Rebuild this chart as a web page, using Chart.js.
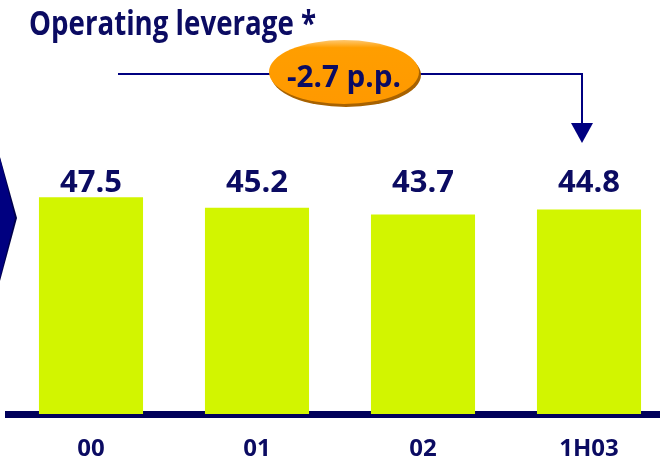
<!DOCTYPE html>
<html>
<head>
<meta charset="utf-8">
<script src="https://cdn.jsdelivr.net/npm/chart.js@4/dist/chart.umd.min.js"></script>
<style>
  html, body { margin: 0; padding: 0; background: #fff; overflow: hidden; }
  #wrap { width: 672px; height: 461px; }
</style>
</head>
<body>
<div id="wrap"><canvas id="myChart" width="672" height="461"></canvas></div>
<script>
const categories = ['00', '01', '02', '1H03'];
const leverage = [47.5, 45.2, 43.7, 44.8];
const chartTitle = 'Operating leverage *';
// change between first and last period, in percentage points
const delta = (leverage[leverage.length - 1] - leverage[0]).toFixed(1) + ' p.p.';

const NAVY = '#000080';
const INK = '#0b0b62';
const FONT = '"Open Sans", sans-serif';

// draw text squeezed horizontally into a given width
function fitText(ctx, text, x, y, width) {
    const w = ctx.measureText(text).width;
    const k = Math.min(1, width / w);
    ctx.save();
    ctx.translate(x, y);
    ctx.scale(k, 1);
    ctx.fillText(text, 0, 0);
    ctx.restore();
}

const decorations = {
    id: 'decorations',
    afterDatasetsDraw(chart) {
        const ctx = chart.ctx;
        const bars = chart.getDatasetMeta(0).data;
        ctx.save();

        // title
        ctx.fillStyle = INK;
        ctx.font = 'bold 34px ' + FONT;
        ctx.textAlign = 'left';
        ctx.textBaseline = 'alphabetic';
        fitText(ctx, chartTitle, 29, 35, 287);

        // left chevron
        ctx.fillStyle = '#00004a';
        ctx.beginPath();
        ctx.moveTo(0, 157); ctx.lineTo(17, 218); ctx.lineTo(0, 281); ctx.closePath();
        ctx.fill();
        ctx.fillStyle = NAVY;
        ctx.beginPath();
        ctx.moveTo(0, 158); ctx.lineTo(15, 218); ctx.lineTo(0, 278); ctx.closePath();
        ctx.fill();

        // connector from first to last bar
        const xEnd = Math.round(bars[bars.length - 1].x) - 7;
        ctx.strokeStyle = NAVY;
        ctx.lineWidth = 2;
        ctx.beginPath();
        ctx.moveTo(118, 74); ctx.lineTo(xEnd, 74); ctx.lineTo(xEnd, 124);
        ctx.stroke();
        ctx.fillStyle = NAVY;
        ctx.beginPath();
        ctx.moveTo(xEnd - 11, 123); ctx.lineTo(xEnd + 11, 123); ctx.lineTo(xEnd, 143);
        ctx.closePath();
        ctx.fill();

        // orange bubble
        const cx = 344, cy = 72;
        ctx.fillStyle = '#a86200';
        ctx.beginPath();
        ctx.ellipse(cx + 2, cy + 3, 75, 32, 0, 0, Math.PI * 2);
        ctx.fill();
        const g = ctx.createLinearGradient(0, cy - 32, 0, cy + 32);
        g.addColorStop(0, '#ffc870');
        g.addColorStop(0.12, '#ff9e00');
        g.addColorStop(1, '#ff9900');
        ctx.fillStyle = g;
        ctx.beginPath();
        ctx.ellipse(cx, cy, 75, 32, 0, 0, Math.PI * 2);
        ctx.fill();
        ctx.fillStyle = INK;
        ctx.font = 'bold 31px ' + FONT;
        ctx.textAlign = 'left';
        const dw = Math.min(ctx.measureText(delta).width, 114);
        fitText(ctx, delta, cx - dw / 2, 87, 114);

        // value labels
        ctx.font = 'bold 31px ' + FONT;
        ctx.textAlign = 'center';
        bars.forEach((bar, i) => {
            ctx.fillText(leverage[i].toFixed(1), bar.x, 192);
        });
        ctx.restore();
    }
};

const data = {
    labels: categories,
    datasets: [{
        data: leverage,
        backgroundColor: '#d2f500',
        borderWidth: 0,
        categoryPercentage: 1,
        barPercentage: 0.627
    }]
};

const options = {
    responsive: false,
    animation: false,
    layout: { padding: { left: 8, right: 0, top: 0, bottom: 0 } },
    plugins: {
        legend: { display: false },
        tooltip: { enabled: false }
    },
    scales: {
        x: {
            z: 1,
            grid: { display: false },
            border: { display: true, color: '#00005a', width: 7 },
            ticks: {
                color: INK,
                font: { family: FONT, size: 24, weight: 'bold' },
                padding: 13,
                maxRotation: 0
            },
            afterFit(scale) { scale.height = 47; }
        },
        y: {
            display: false,
            min: 0,
            max: 90.7
        }
    }
};

const config = {
    type: 'bar',
    data,
    options,
    plugins: [decorations]
};

const myChart = new Chart(
    document.getElementById('myChart'),
    config
);
</script>
</body>
</html>
